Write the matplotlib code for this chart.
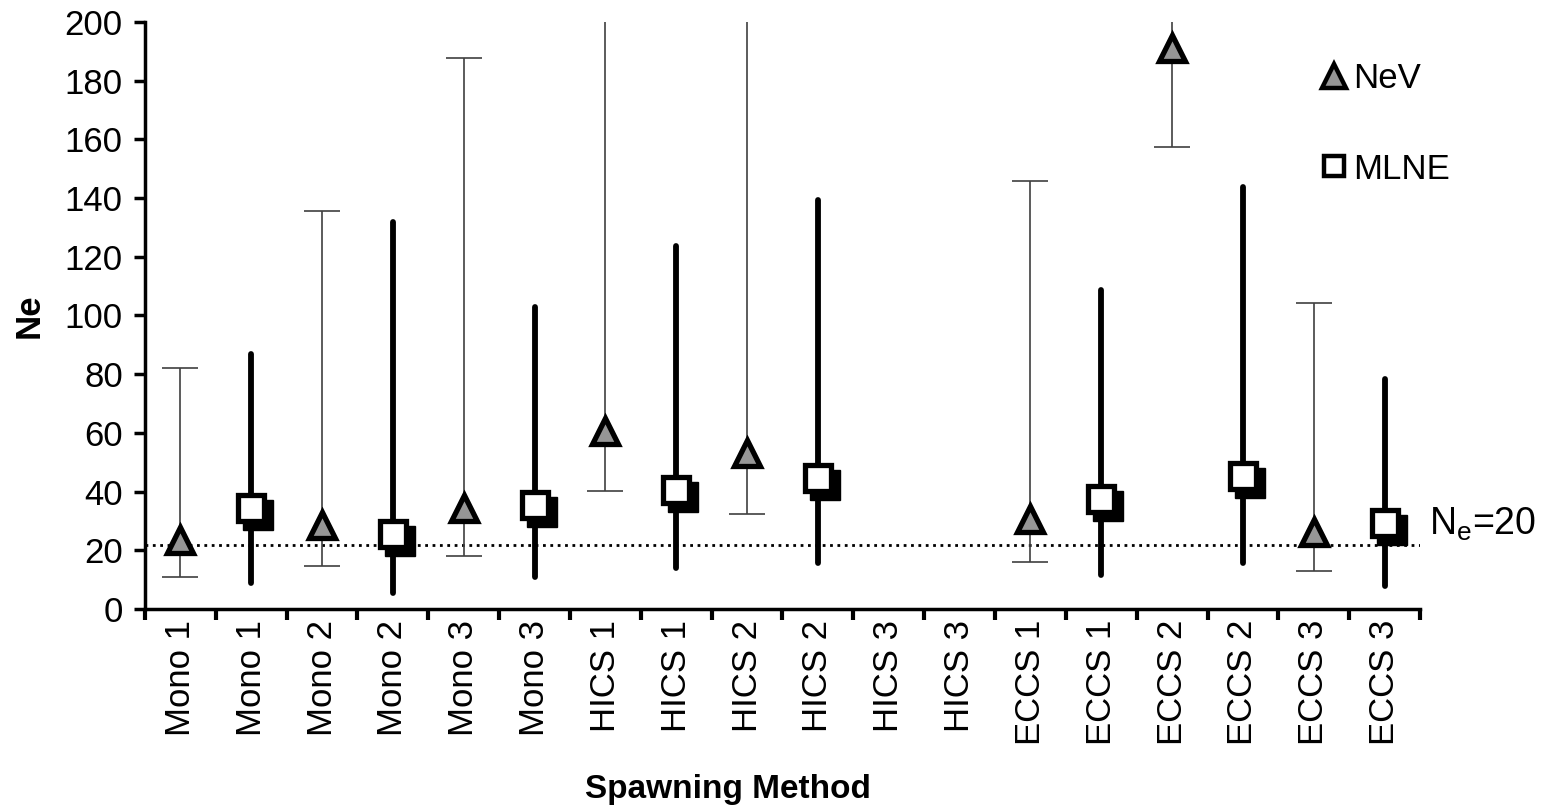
import numpy as np
import matplotlib.pyplot as plt
import matplotlib.transforms as mtransforms
from matplotlib.lines import Line2D

plt.rcParams['font.family'] = ['Liberation Sans', 'DejaVu Sans']

# Categories along the x axis
labels = ['Mono 1', 'Mono 1', 'Mono 2', 'Mono 2', 'Mono 3', 'Mono 3',
          'HICS 1', 'HICS 1', 'HICS 2', 'HICS 2', 'HICS 3', 'HICS 3',
          'ECCS 1', 'ECCS 1', 'ECCS 2', 'ECCS 2', 'ECCS 3', 'ECCS 3']

# NeV estimates (triangles) with confidence limits
nev_idx = [0, 2, 4, 6, 8, 12, 14, 16]
nev_val = [23.5, 28.7, 34.4, 60.6, 53.3, 30.7, 191.3, 26.2]
nev_lo = [10.9, 14.6, 18.0, 40.2, 32.4, 16.0, 157.4, 13.0]
nev_hi = [82.0, 135.6, 187.7, 260.0, 260.0, 145.8, 260.0, 104.3]

# MLNE estimates (squares) with confidence limits
mlne_idx = [1, 3, 5, 7, 9, 13, 15, 17]
mlne_val = [34.4, 25.5, 35.4, 40.4, 44.6, 37.5, 45.3, 29.3]
mlne_lo = [9.0, 5.5, 11.0, 14.0, 15.7, 11.6, 15.7, 7.8]
mlne_hi = [87.0, 132.0, 103.0, 123.7, 139.4, 108.7, 143.8, 78.4]

ne_line = 21.8

fig = plt.figure(figsize=(15.44, 8.07), dpi=100)
ax = fig.add_axes([0.0939, 0.2454, 0.8258, 0.7273])

nev_val = np.array(nev_val)
mlne_val = np.array(mlne_val)

# Reference line
ax.axhline(ne_line, color='black', linestyle=':', linewidth=2, zorder=1)

# NeV: thin grey bars with caps
ax.errorbar(nev_idx, nev_val,
            yerr=[nev_val - np.array(nev_lo), np.array(nev_hi) - nev_val],
            fmt='none', ecolor='#404040', elinewidth=1.2, capsize=13,
            capthick=1.2, zorder=2)

# MLNE: thick black bars without caps
ax.vlines(mlne_idx, mlne_lo, mlne_hi, color='black', linewidth=4.2,
          capstyle='round', zorder=2)

# Squares with drop shadow
shadow = mtransforms.offset_copy(ax.transData, fig=fig, x=5, y=-5, units='points')
ax.plot(mlne_idx, mlne_val, 's', color='black', markersize=21,
        transform=shadow, zorder=3)
ax.plot(mlne_idx, mlne_val, 's', markerfacecolor='white',
        markeredgecolor='black', markeredgewidth=3.8, markersize=18.5, zorder=4)

# Triangles
ax.plot(nev_idx, nev_val, '^', markerfacecolor='#969696',
        markeredgecolor='black', markeredgewidth=3.8, markersize=18.5, zorder=4)

ax.set_xlim(-0.5, len(labels) - 0.5)
ax.set_ylim(0, 200)
ax.set_yticks(np.arange(0, 201, 20))

ax.set_xticks(np.arange(-0.5, len(labels), 1.0))
ax.set_xticklabels([])
ax.set_xticks(np.arange(len(labels)), minor=True)
ax.set_xticklabels(labels, minor=True, rotation=90, fontsize=25)
ax.tick_params(axis='x', which='minor', length=0, pad=8)
ax.tick_params(axis='x', which='major', direction='out', length=8, width=3)
ax.tick_params(axis='y', direction='out', length=8, width=2.5, labelsize=25, pad=8)

for side in ['top', 'right']:
    ax.spines[side].set_visible(False)
for side in ['left', 'bottom']:
    ax.spines[side].set_linewidth(2.5)

ax.set_xlabel('Spawning Method', fontsize=24, fontweight='bold')
ax.xaxis.set_label_coords(0.457, -0.282)
ax.set_ylabel('Ne', fontsize=25, fontweight='bold', labelpad=14)

ax.text(1.007, ne_line + 7, 'N$_\\mathregular{e}$=20', transform=ax.get_yaxis_transform(),
        fontsize=27, va='center', ha='left', clip_on=False)

# Legend
handles = [Line2D([], [], marker='^', linestyle='none', markerfacecolor='#969696',
                  markeredgecolor='black', markeredgewidth=3.2, markersize=17),
           Line2D([], [], marker='s', linestyle='none', markerfacecolor='white',
                  markeredgecolor='black', markeredgewidth=3.2, markersize=15)]
ax.legend(handles, ['NeV', 'MLNE'], loc='upper left', bbox_to_anchor=(0.908, 0.955),
          frameon=False, fontsize=25, labelspacing=1.65, handletextpad=0.05,
          handlelength=1.0, borderaxespad=0)

fig.savefig('out.png', dpi=100)
